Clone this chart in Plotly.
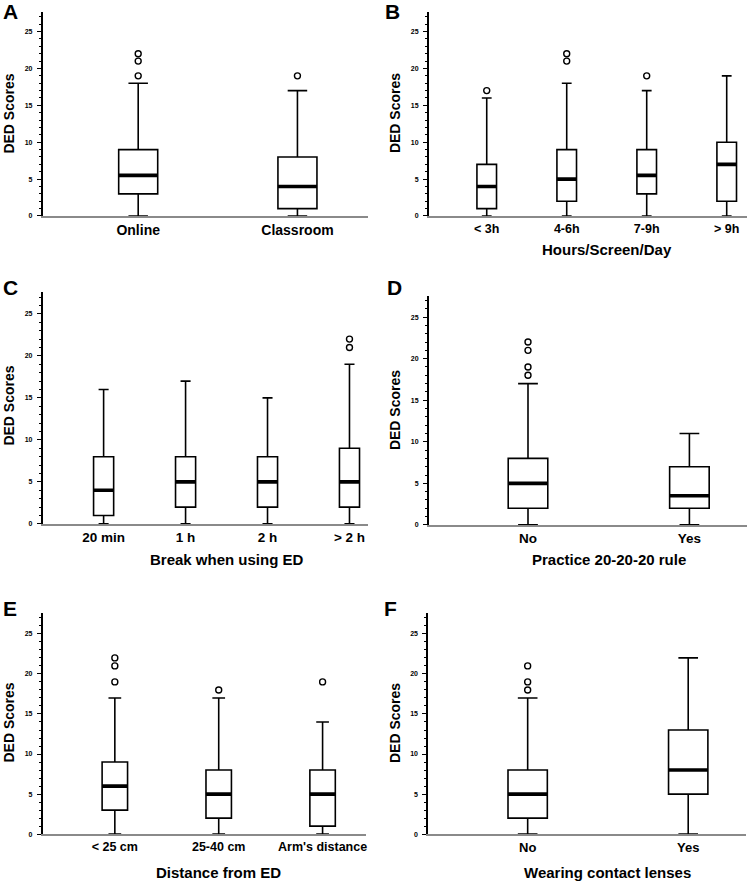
import plotly.graph_objects as go

# ---------------- data ----------------
cats_A = ["Online", "Classroom"]
low_A = [0, 0]; q1_A = [3, 1]; med_A = [5.5, 4]; q3_A = [9, 8]; high_A = [18, 17]
out_A = [[19, 21, 22], [19]]

cats_B = ["< 3h", "4-6h", "7-9h", "> 9h"]
low_B = [0, 0, 0, 0]; q1_B = [1, 2, 3, 2]; med_B = [4, 5, 5.5, 7]; q3_B = [7, 9, 9, 10]; high_B = [16, 18, 17, 19]
out_B = [[17], [21, 22], [19], []]

cats_C = ["20 min", "1 h", "2 h", "> 2 h"]
low_C = [0, 0, 0, 0]; q1_C = [1, 2, 2, 2]; med_C = [4, 5, 5, 5]; q3_C = [8, 8, 8, 9]; high_C = [16, 17, 15, 19]
out_C = [[], [], [], [21, 22]]

cats_D = ["No", "Yes"]
low_D = [0, 0]; q1_D = [2, 2]; med_D = [5, 3.5]; q3_D = [8, 7]; high_D = [17, 11]
out_D = [[18, 19, 21, 22], []]

cats_E = ["< 25 cm", "25-40 cm", "Arm's distance"]
low_E = [0, 0, 0]; q1_E = [3, 2, 1]; med_E = [6, 5, 5]; q3_E = [9, 8, 8]; high_E = [17, 17, 14]
out_E = [[19, 21, 22], [18], [19]]

cats_F = ["No", "Yes"]
low_F = [0, 0]; q1_F = [2, 5]; med_F = [5, 8]; q3_F = [8, 13]; high_F = [17, 22]
out_F = [[18, 19, 21], []]

y_ticks = [0, 5, 10, 15, 20, 25]
y_title = "DED Scores"
x_titles = {"A": None, "B": "Hours/Screen/Day", "C": "Break when using ED",
            "D": "Practice 20-20-20 rule", "E": "Distance from ED", "F": "Wearing contact lenses"}

# ---------------- layout helpers (page pixels -> paper) ----------------
W, H = 752, 886
FONT = "Liberation Sans, Arial, sans-serif"


def px_x(px):
    return px / W


def px_y(py):
    return 1 - py / H


panels = [
    dict(key="A", cats=cats_A, st=(low_A, q1_A, med_A, q3_A, high_A), out=out_A,
         xd=(42.7, 368.0), y0=216.7, ppu=7.4, xr=(-0.6, 1.44), lf=14, let=(11, 12), yt=(9, 114), xt=None),
    dict(key="B", cats=cats_B, st=(low_B, q1_B, med_B, q3_B, high_B), out=out_B,
         xd=(429.3, 747.7), y0=216.7, ppu=7.4, xr=(-0.725, 3.25), lf=12.5, let=(393, 12), yt=(395, 113), xt=250),
    dict(key="C", cats=cats_C, st=(low_C, q1_C, med_C, q3_C, high_C), out=out_C,
         xd=(42.7, 368.0), y0=525.7, ppu=8.43, xr=(-0.744, 3.22), lf=13.5, let=(11, 288), yt=(9, 407), xt=561),
    dict(key="D", cats=cats_D, st=(low_D, q1_D, med_D, q3_D, high_D), out=out_D,
         xd=(429.3, 747.7), y0=526.7, ppu=8.34, xr=(-0.615, 1.355), lf=13.5, let=(395, 288), yt=(395, 411), xt=561),
    dict(key="E", cats=cats_E, st=(low_E, q1_E, med_E, q3_E, high_E), out=out_E,
         xd=(42.7, 366.7), y0=837.0, ppu=8.04, xr=(-0.695, 2.42), lf=12.5, let=(10, 611), yt=(9, 725), xt=875),
    dict(key="F", cats=cats_F, st=(low_F, q1_F, med_F, q3_F, high_F), out=out_F,
         xd=(428.7, 747.0), y0=837.0, ppu=8.04, xr=(-0.62, 1.36), lf=13, let=(391, 611), yt=(395, 725), xt=875),
]

YMAX = 27.6
BOXW = 0.245

fig = go.Figure()
annotations = []
layout_axes = {}

for i, p in enumerate(panels):
    n = i + 1
    xa = "x" if n == 1 else f"x{n}"
    ya = "y" if n == 1 else f"y{n}"
    xkey = "xaxis" if n == 1 else f"xaxis{n}"
    ykey = "yaxis" if n == 1 else f"yaxis{n}"
    low, q1, med, q3, high = p["st"]
    xs = list(range(len(p["cats"])))

    for j in xs:
        fig.add_trace(go.Box(
            x=[j], q1=[q1[j]], median=[med[j]], q3=[q3[j]],
            lowerfence=[low[j]], upperfence=[high[j]],
            width=BOXW, whiskerwidth=0.5,
            fillcolor="white", line=dict(color="black", width=1.6),
            boxpoints=False, showlegend=False, hoverinfo="skip",
            xaxis=xa, yaxis=ya))
        # thick median line
        fig.add_trace(go.Scatter(
            x=[j - BOXW / 2, j + BOXW / 2], y=[med[j], med[j]], mode="lines",
            line=dict(color="black", width=3.6), showlegend=False, hoverinfo="skip",
            xaxis=xa, yaxis=ya))
        if p["out"][j]:
            fig.add_trace(go.Scatter(
                x=[j] * len(p["out"][j]), y=p["out"][j], mode="markers",
                marker=dict(symbol="circle-open", size=6, color="black", line=dict(width=1.4)),
                showlegend=False, hoverinfo="skip", xaxis=xa, yaxis=ya))

    top_px = p["y0"] - YMAX * p["ppu"]
    ydom = [px_y(p["y0"]), px_y(top_px)]
    xdom = [px_x(p["xd"][0]), min(1.0, px_x(p["xd"][1]))]

    layout_axes[xkey] = dict(
        domain=xdom, range=list(p["xr"]), anchor=ya,
        tickmode="array", tickvals=xs, ticktext=[f"<b>{c}</b>" for c in p["cats"]],
        tickfont=dict(family=FONT, size=p["lf"], color="black"),
        showline=True, linecolor="#8a8a8a", linewidth=1.5,
        ticks="", showgrid=False, zeroline=False)
    layout_axes[ykey] = dict(
        domain=ydom, range=[0, YMAX], anchor=xa,
        tickmode="array", tickvals=y_ticks, ticktext=[f"<b>{t}</b>" for t in y_ticks],
        tickfont=dict(family=FONT, size=7, color="black"),
        showline=True, linecolor="black", linewidth=1.5,
        ticks="outside", ticklen=4, tickwidth=1.2, tickcolor="black", ticklabelstandoff=3,
        minor=dict(dtick=1, ticks="outside", ticklen=2, tickwidth=1, tickcolor="black", showgrid=False),
        showgrid=False, zeroline=False)

    annotations.append(dict(text=f"<b>{p['key']}</b>", x=px_x(p["let"][0]), y=px_y(p["let"][1]),
                            xref="paper", yref="paper", showarrow=False,
                            font=dict(family=FONT, size=21, color="black"),
                            xanchor="center", yanchor="middle"))
    annotations.append(dict(text=f"<b>{y_title}</b>", x=px_x(p["yt"][0]), y=px_y(p["yt"][1]),
                            xref="paper", yref="paper", showarrow=False, textangle=-90,
                            font=dict(family=FONT, size=14, color="black"),
                            xanchor="center", yanchor="middle"))
    if x_titles[p["key"]]:
        annotations.append(dict(text=f"<b>{x_titles[p['key']]}</b>", x=(len(p["cats"]) - 1) / 2,
                                y=px_y(p["xt"]), xref=xa, yref="paper", showarrow=False,
                                font=dict(family=FONT, size=15, color="black"),
                                xanchor="center", yanchor="middle"))

fig.update_layout(
    width=W, height=H, margin=dict(l=0, r=0, t=0, b=0),
    paper_bgcolor="white", plot_bgcolor="white",
    annotations=annotations, showlegend=False, **layout_axes)

fig.write_html("out.html", config={"displayModeBar": False},
               post_script="document.body.style.margin='0';document.body.style.overflow='hidden';")
